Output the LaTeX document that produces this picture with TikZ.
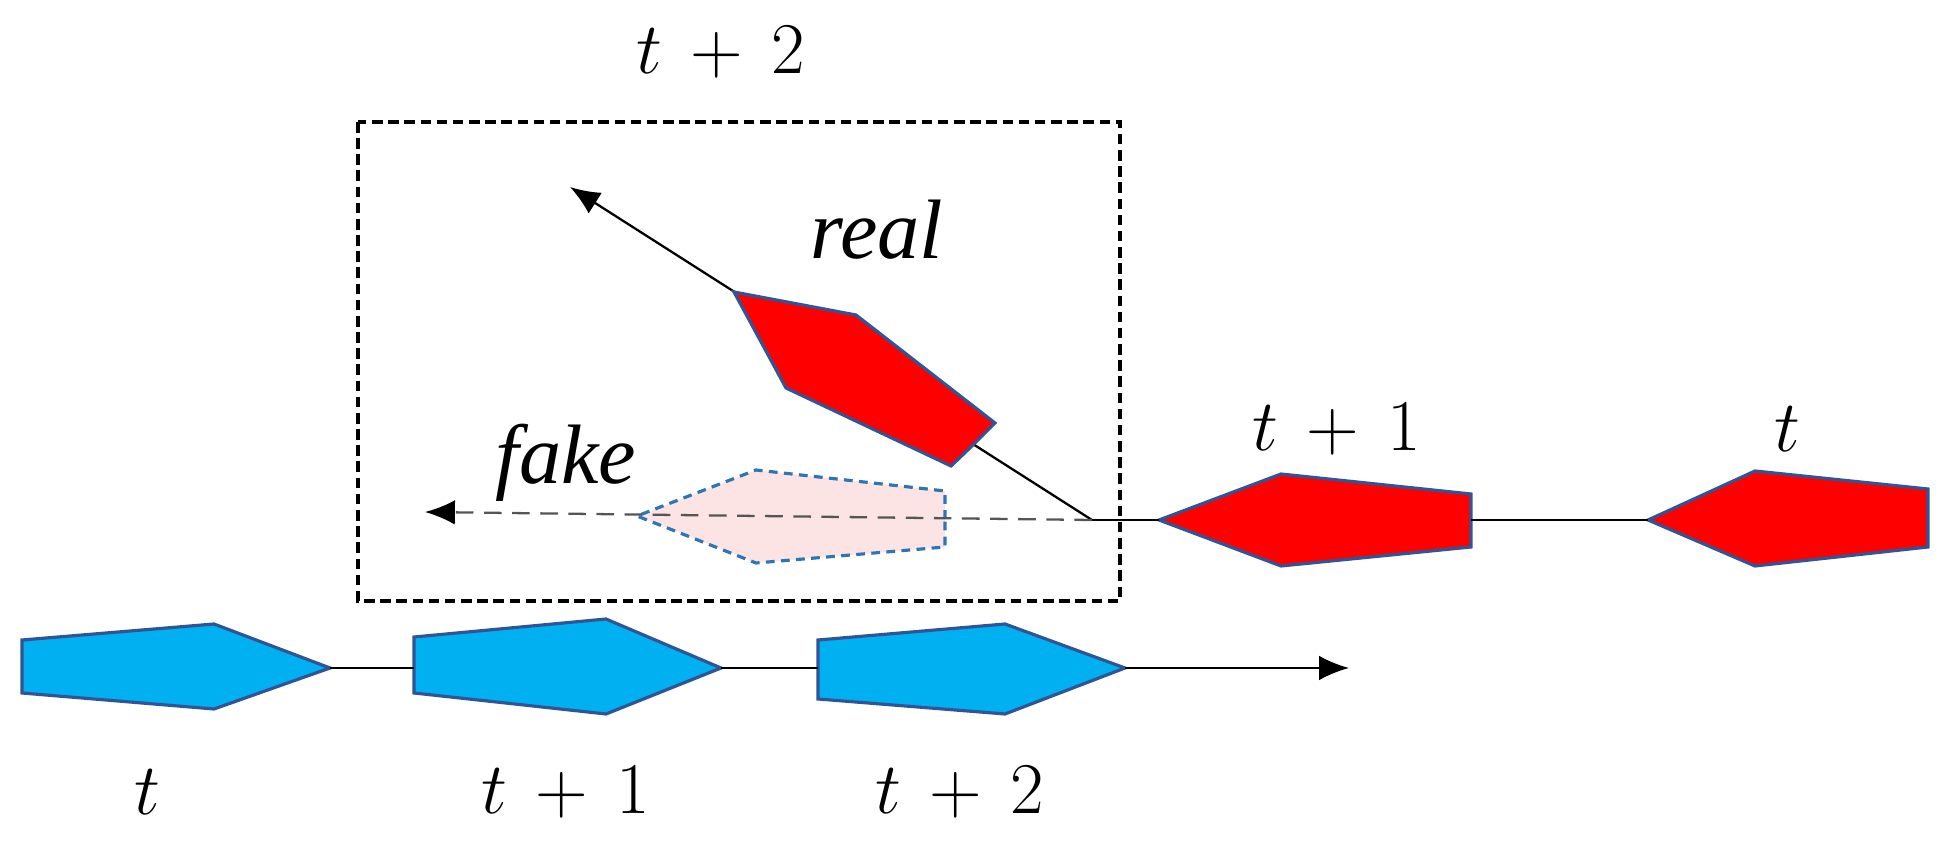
\documentclass[tikz,border=0pt]{standalone}
\usepackage{fontspec}
\usepackage{tikz}
\usetikzlibrary{arrows.meta}
\newfontfamily\timesfont{Liberation Serif}
\definecolor{carblue}{HTML}{00B0F0}
\definecolor{carred}{HTML}{FF0000}
\definecolor{caredge}{HTML}{2F5597}
\definecolor{ghostfill}{HTML}{FDE4E4}
\definecolor{ghostedge}{HTML}{2E75B6}
\definecolor{trackgray}{HTML}{555555}

\begin{document}
\begin{tikzpicture}[
  x=0.1mm,y=-0.1mm,
  every node/.style={font=\fontsize{21}{25}\selectfont,inner sep=0pt},
  word/.style={font=\fontsize{24}{28}\selectfont\timesfont\itshape},
  bluecar/.style={draw=caredge,fill=carblue,line width=0.9pt},
  redcar/.style={draw=caredge,fill=carred,line width=0.9pt},
  ghostcar/.style={draw=ghostedge,fill=ghostfill,line width=0.9pt,dash pattern=on 2.5pt off 1.8pt},
  link/.style={line width=0.65pt,color=black},
  arrow/.style={link,-{Latex[length=8.5pt,width=7pt]}},
  fakearrow/.style={link,color=trackgray,dash pattern=on 5pt off 3pt,-{Latex[length=8.5pt,width=7pt,color=black]}},
  window/.style={draw,line width=1.1pt,dash pattern=on 3pt off 1.6pt}
]
\useasboundingbox (0,0) rectangle (1950,846);

% prediction window
\draw[window] (358,122) rectangle (1120,601);

% red car track
\coordinate (split) at (1092,520);
\coordinate (realend) at (570,187);
\coordinate (fakeend) at (425,512);
\draw[arrow] (split) -- (realend);
\draw[redcar] (973,445) coordinate (realin) -- (995,423) -- (856,315) -- (734,292) coordinate (realout)
  -- (786,388) -- (951,466) -- cycle;
\draw[ghostcar] (945,519) coordinate (fakein) -- (945,491) -- (756,470) -- (637,516) coordinate (fakeout)
  -- (756,563) -- (945,547) -- cycle;
\draw[fakearrow] (split) -- (fakeend);
\draw[redcar] (1471,520) coordinate (r1in) -- (1471,494) -- (1281,474) -- (1159,520) coordinate (r1out)
  -- (1281,566) -- (1471,547) -- cycle;
\draw[redcar] (1928,520) coordinate (r0in) -- (1928,489) -- (1755,471) -- (1648,520) coordinate (r0out)
  -- (1755,566) -- (1928,547) -- cycle;
\draw[link] (r0out) -- (r1in);
\draw[link] (r1out) -- (split);

% blue car track
\draw[bluecar] (22,668) coordinate (b0in) -- (22,640) -- (214,624) -- (330,668) coordinate (b0out)
  -- (214,709) -- (22,693) -- cycle;
\draw[bluecar] (414,668) coordinate (b1in) -- (414,637) -- (606,619) -- (721,668) coordinate (b1out)
  -- (606,714) -- (414,693) -- cycle;
\draw[bluecar] (818,668) coordinate (b2in) -- (818,640) -- (1005,624) -- (1125,668) coordinate (b2out)
  -- (1005,714) -- (818,699) -- cycle;
\coordinate (blueend) at (1349,668);
\draw[link] (b0out) -- (b1in);
\draw[link] (b1out) -- (b2in);
\draw[arrow] (b2out) -- (blueend);

% labels
\node (toplabel) at (721,52) {$t\,+\,2$};
\node (redone) at (1337,429) {$t\,+\,1$};
\node (redzero) at (1787,429) {$t$};
\node (bluezero) at (147,792) {$t$};
\node (blueone) at (566,792) {$t\,+\,1$};
\node (bluetwo) at (960,792) {$t\,+\,2$};
\node[word] (reallabel) at (877,230) {real};
\node[word] (fakelabel) at (566,463) {fake};
\end{tikzpicture}
\end{document}
